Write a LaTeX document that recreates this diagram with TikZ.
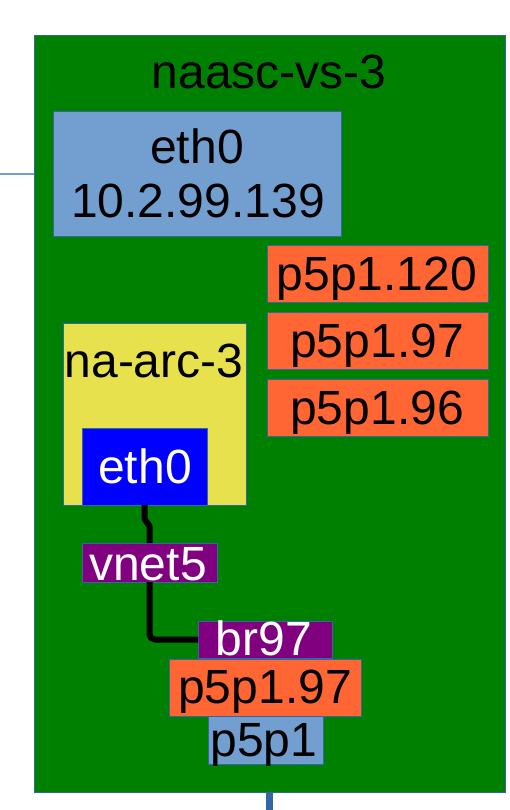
\documentclass[tikz,border=0pt]{standalone}
\usepackage{fontspec}
\setmainfont{Liberation Sans}
\definecolor{hostgreen}{HTML}{008000}
\definecolor{lightblue}{HTML}{729FCF}
\definecolor{edgeblue}{HTML}{3465A4}
\definecolor{ifaceorange}{HTML}{FF6633}
\definecolor{vmyellow}{HTML}{E6E14C}
\definecolor{bridgepurple}{HTML}{800080}
\definecolor{vmblue}{HTML}{0000FF}
\begin{document}
\begin{tikzpicture}[x=0.75pt,y=-0.75pt,
  box/.style={draw=edgeblue, line width=0.75pt, inner sep=0pt, outer sep=0pt},
  lbl/.style={anchor=base, inner sep=0pt, outer sep=0pt, font=\fontsize{36}{42}\selectfont},
  wlbl/.style={lbl, text=white},
  wire/.style={black, line width=4.5pt, line join=round}]
\useasboundingbox (0,0) rectangle (510,810);

% host
\node[box, fill=hostgreen, minimum width=353.25pt, minimum height=567.75pt] (host) at (269.5,413.5) {};
\node[lbl] (ttitle) at (269,88) {naasc-vs-3};

% host eth0
\node[box, fill=lightblue, minimum width=216pt, minimum height=93.75pt] (eth0host) at (197,173.5) {};
\node[lbl] (teth0a) at (197,163) {eth0};
\node[lbl] (teth0b) at (198,217) {10.2.99.139};

% vlan interfaces
\node[box, fill=ifaceorange, minimum width=165.75pt, minimum height=42.75pt] (p120) at (377.5,273.5) {};
\node[lbl] (tp120) at (377,290) {p5p1.120};
\node[box, fill=ifaceorange, minimum width=165.75pt, minimum height=42.75pt] (p97a) at (377.5,340.5) {};
\node[lbl] (tp97a) at (377,357) {p5p1.97};
\node[box, fill=ifaceorange, minimum width=165.75pt, minimum height=42.75pt] (p96) at (377.5,408) {};
\node[lbl] (tp96) at (377,424) {p5p1.96};

% VM
\node[box, fill=vmyellow, minimum width=137.25pt, minimum height=136.5pt] (vm) at (154.5,414) {};
\node[lbl] (tvm) at (154,377) {na-arc-3};
\node[box, fill=vmblue, minimum width=93.75pt, minimum height=57.75pt] (eth0vm) at (144.5,466.5) {};
\node[wlbl] (teth0vm) at (145,483) {eth0};

% vnet5
\node[box, fill=bridgepurple, minimum width=101.25pt, minimum height=29.25pt] (vnet5) at (149.5,562.5) {};
\node[wlbl] (tvnet5) at (148,580) {vnet5};

% bridge stack
\node[box, fill=bridgepurple, minimum width=100.5pt, minimum height=27.75pt] (br97) at (265,639.5) {};
\node[wlbl] (tbr97) at (264,655) {br97};
\node[box, fill=ifaceorange, minimum width=144pt, minimum height=42.75pt] (p97b) at (265,687.5) {};
\node[lbl] (tp97b) at (265,703) {p5p1.97};
\node[box, fill=lightblue, minimum width=86.25pt, minimum height=36pt] (p5p1) at (265.5,740) {};
\node[lbl] (tp5p1) at (264,756) {p5p1};

% wires
\draw[wire] (eth0vm.south) -- ++(0,14) -- ([yshift=12.75pt]vnet5.north) -- (vnet5.north);
\draw[wire, rounded corners=4pt] (vnet5.south) |- (br97.west);

% external links
\coordinate (leftend) at (0,174);
\draw[lightblue, line width=0.9pt] (leftend) -- (leftend -| host.west);
\coordinate (bottomend) at (269.5,810);
\draw[edgeblue, line width=5.25pt] (host.south) -- (bottomend);
\end{tikzpicture}
\end{document}
